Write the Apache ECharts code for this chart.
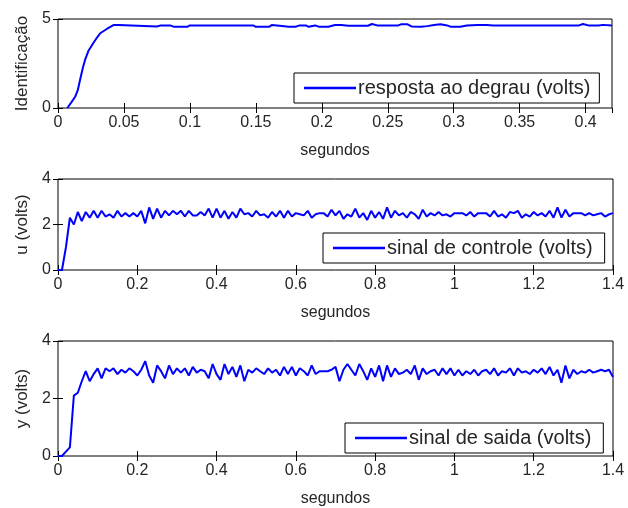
<!DOCTYPE html>
<html>
<head>
<meta charset="utf-8">
<script src="https://cdn.jsdelivr.net/npm/echarts@6/dist/echarts.min.js"></script>
<style>
  html, body { margin: 0; padding: 0; background: #fff; }
  #chart { width: 628px; height: 508px; }
</style>
</head>
<body>
<div id="chart"></div>
<script>
// resposta ao degrau (identificacao)
var tStep = [0.007, 0.010, 0.013, 0.015, 0.0167, 0.019, 0.0205, 0.023, 0.0268, 0.030, 0.032, 0.037, 0.042, 0.046, 0.047,
  0.075, 0.078, 0.085, 0.088, 0.098, 0.100, 0.148, 0.150, 0.160, 0.162, 0.168, 0.175, 0.180, 0.183, 0.188, 0.190, 0.195,
  0.198, 0.205, 0.210, 0.215, 0.220, 0.235, 0.238, 0.242, 0.258, 0.260, 0.265, 0.268, 0.275, 0.280, 0.285, 0.290, 0.295,
  0.298, 0.305, 0.310, 0.318, 0.325, 0.330, 0.395, 0.398, 0.402, 0.410, 0.413, 0.420];
var vStep = [0, 0.3, 0.63, 1.0, 1.57, 2.3, 2.7, 3.2, 3.65, 4.0, 4.2, 4.44, 4.66, 4.66, 4.58,
  4.58, 4.64, 4.64, 4.56, 4.56, 4.64, 4.64, 4.56, 4.56, 4.66, 4.62, 4.56, 4.56, 4.64, 4.64, 4.56, 4.64,
  4.56, 4.56, 4.66, 4.66, 4.62, 4.62, 4.72, 4.64, 4.64, 4.7, 4.7, 4.58, 4.56, 4.6, 4.66, 4.7, 4.64,
  4.56, 4.56, 4.64, 4.66, 4.66, 4.64, 4.64, 4.72, 4.64, 4.64, 4.67, 4.64];

// amostras a cada 0.01 s de 0 a 1.4 s
var dt = 0.01;
var uVals = [0, 0, 1.0, 2.3, 2.0, 2.55, 2.15, 2.55, 2.3, 2.6,
  2.3, 2.6, 2.35, 2.45, 2.3, 2.6, 2.35, 2.5, 2.35, 2.5,
  2.35, 2.6, 2.05, 2.75, 2.25, 2.7, 2.3, 2.6, 2.4, 2.6,
  2.45, 2.6, 2.35, 2.6, 2.4, 2.4, 2.55, 2.4, 2.7, 2.3,
  2.7, 2.3, 2.6, 2.25, 2.55, 2.3, 2.7, 2.45, 2.5, 2.35,
  2.6, 2.4, 2.45, 2.3, 2.55, 2.35, 2.6, 2.3, 2.6, 2.35,
  2.5, 2.45, 2.4, 2.6, 2.3, 2.45, 2.5, 2.5, 2.35, 2.65,
  2.4, 2.6, 2.25, 2.45, 2.35, 2.7, 2.3, 2.5, 2.2, 2.6,
  2.3, 2.55, 2.25, 2.75, 2.3, 2.6, 2.4, 2.5, 2.3, 2.55,
  2.45, 2.25, 2.65, 2.35, 2.5, 2.4, 2.55, 2.4, 2.45, 2.35,
  2.5, 2.5, 2.5, 2.4, 2.55, 2.35, 2.5, 2.5, 2.5, 2.35,
  2.6, 2.35, 2.45, 2.3, 2.55, 2.5, 2.6, 2.3, 2.45, 2.35,
  2.55, 2.4, 2.5, 2.35, 2.6, 2.3, 2.75, 2.3, 2.65, 2.35,
  2.5, 2.5, 2.5, 2.4, 2.5, 2.4, 2.45, 2.5, 2.35, 2.45,
  2.5];
var yVals = [0, 0, 0.15, 0.3, 2.1, 2.2, 2.6, 2.95, 2.6, 2.85,
  3.05, 2.7, 3.05, 2.95, 3.05, 2.85, 3.0, 2.9, 3.05, 2.95,
  2.8, 3.0, 3.3, 2.8, 2.55, 3.15, 2.95, 2.7, 3.15, 2.85,
  3.05, 2.9, 3.05, 2.8, 3.1, 2.9, 3.0, 2.95, 2.7, 3.2,
  2.85, 2.65, 3.2, 2.85, 3.1, 2.75, 3.15, 2.6, 3.0, 2.9,
  3.05, 2.95, 2.85, 3.05, 2.9, 3.0, 2.8, 3.1, 2.85, 3.1,
  2.8, 3.05, 2.95, 2.8, 3.15, 2.85, 2.95, 2.95, 2.95, 3.0,
  3.1, 2.6, 3.0, 3.2, 3.0, 2.8, 3.2, 2.95, 2.65, 3.05,
  2.75, 3.15, 2.6, 3.15, 2.75, 3.05, 2.85, 2.9, 3.0, 2.85,
  3.15, 2.65, 3.05, 2.85, 2.95, 3.0, 2.8, 3.05, 2.85, 3.05,
  2.8, 3.0, 2.8, 2.95, 2.85, 3.0, 2.8, 2.95, 3.0, 2.85,
  3.05, 2.8, 2.95, 2.9, 3.05, 2.8, 3.05, 2.9, 2.95, 2.85,
  3.0, 2.9, 3.05, 2.85, 3.1, 2.8, 3.0, 2.55, 3.15, 2.7,
  3.0, 2.85, 2.95, 2.9, 3.0, 2.9, 2.95, 3.0, 2.95, 3.0,
  2.75];

var names = ['resposta ao degrau (volts)', 'sinal de controle (volts)', 'sinal de saida (volts)'];
var yNames = ['Identificação', 'u (volts)', 'y (volts)'];
var xName = 'segundos';

function pares(t, v) {
  var out = [];
  for (var i = 0; i < v.length; i++) {
    out.push([t ? t[i] : +(i * dt).toFixed(2), v[i]]);
  }
  return out;
}

var fonte = 'Liberation Sans, Arial, sans-serif';
var corTexto = '#262626';

// posicoes dos tres graficos (pixels)
var grids = [
  { left: 58, top: 19, width: 554, height: 89 },
  { left: 58, top: 179, width: 555, height: 91 },
  { left: 58, top: 341, width: 555, height: 116 }
];
var xs = [
  { max: 0.42, interval: 0.05 },
  { max: 1.4, interval: 0.2 },
  { max: 1.4, interval: 0.2 }
];
var ys = [
  { max: 5, interval: 5 },
  { max: 4, interval: 2 },
  { max: 4, interval: 2 }
];
// caixas das legendas: left, top, folga a direita
var legendas = [
  { left: 294, top: 73, pr: 9 },
  { left: 323, top: 233, pr: 12 },
  { left: 345, top: 423, pr: 12 }
];

var xAxis = [], yAxis = [], series = [], legend = [];
var gridOpt = [];
var tick = { inside: true, length: 5, lineStyle: { color: '#000' } };
for (var g = 0; g < 3; g++) {
  gridOpt.push({
    left: grids[g].left, top: grids[g].top, width: grids[g].width, height: grids[g].height,
    show: true, borderColor: '#000', borderWidth: 1, backgroundColor: '#fff'
  });
  xAxis.push({
    type: 'value', gridIndex: g, min: 0, max: xs[g].max, interval: xs[g].interval,
    name: xName, nameLocation: 'middle', nameGap: 35,
    nameTextStyle: { fontFamily: fonte, fontSize: 16, color: corTexto },
    axisLine: { show: false },
    axisTick: tick,
    axisLabel: { fontFamily: fonte, fontSize: 16, color: corTexto, margin: 7,
      showMaxLabel: g > 0,
      formatter: function (v) { return String(+v.toFixed(2)); } },
    splitLine: { show: false }
  });
  xAxis.push({
    type: 'value', gridIndex: g, min: 0, max: xs[g].max, interval: xs[g].interval, position: 'top',
    axisLine: { show: false }, axisTick: tick,
    axisLabel: { show: false }, splitLine: { show: false }
  });
  yAxis.push({
    type: 'value', gridIndex: g, min: 0, max: ys[g].max, interval: ys[g].interval,
    name: yNames[g], nameLocation: 'middle', nameGap: 27, nameRotate: 90,
    nameTextStyle: { fontFamily: fonte, fontSize: 17, color: corTexto },
    axisLine: { show: false }, axisTick: tick,
    axisLabel: { fontFamily: fonte, fontSize: 16, color: corTexto, margin: 7 },
    splitLine: { show: false }
  });
  yAxis.push({
    type: 'value', gridIndex: g, min: 0, max: ys[g].max, interval: ys[g].interval, position: 'right',
    axisLine: { show: false }, axisTick: tick,
    axisLabel: { show: false }, splitLine: { show: false }
  });
  legend.push({
    data: [names[g]], left: legendas[g].left, top: legendas[g].top,
    padding: [5, legendas[g].pr, 5, 10],
    borderColor: '#000', borderWidth: 1, backgroundColor: '#fff',
    icon: 'rect', itemWidth: 52, itemHeight: 2.5, itemGap: 0,
    textStyle: { fontFamily: fonte, fontSize: 20, color: corTexto, padding: [0, 0, 0, -3] }
  });
}

series.push({ name: names[0], type: 'line', xAxisIndex: 0, yAxisIndex: 0, data: pares(tStep, vStep) });
series.push({ name: names[1], type: 'line', xAxisIndex: 2, yAxisIndex: 2, data: pares(null, uVals) });
series.push({ name: names[2], type: 'line', xAxisIndex: 4, yAxisIndex: 4, data: pares(null, yVals) });
series.forEach(function (s) {
  s.showSymbol = false;
  s.symbol = 'none';
  s.color = '#0000ff';
  s.lineStyle = { color: '#0000ff', width: 2 };
});

var chart = echarts.init(document.getElementById('chart'));
chart.setOption({
  animation: false,
  backgroundColor: '#fff',
  grid: gridOpt,
  xAxis: xAxis,
  yAxis: yAxis,
  legend: legend,
  series: series
});
</script>
</body>
</html>
